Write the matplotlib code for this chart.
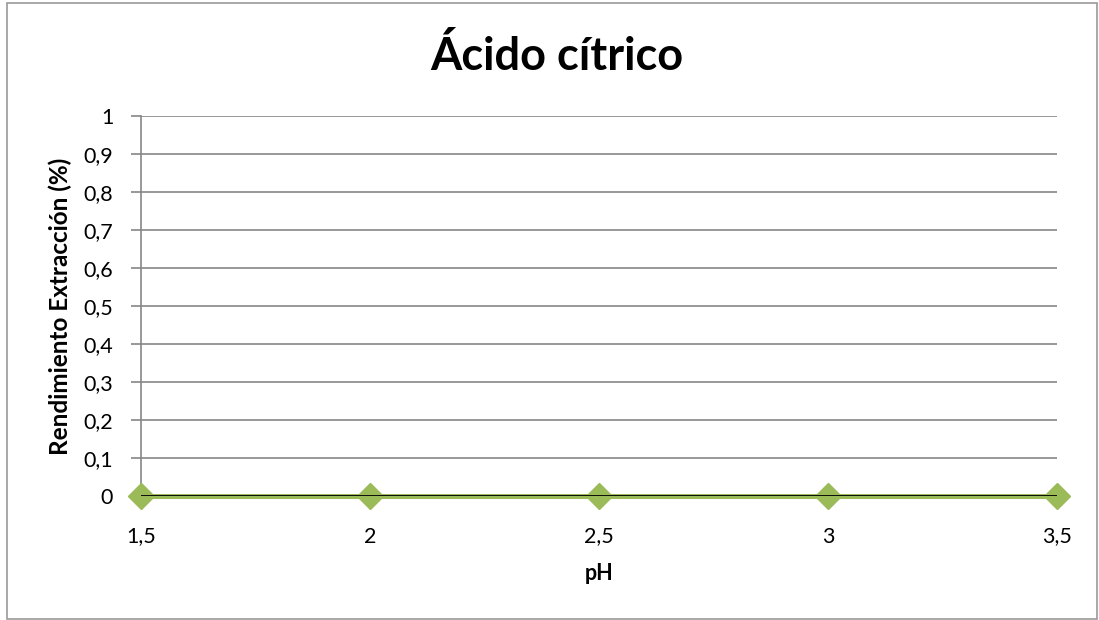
import matplotlib.pyplot as plt
from matplotlib.patches import Rectangle
from matplotlib.ticker import FuncFormatter

# data
ph = [1.5, 2.0, 2.5, 3.0, 3.5]
rendimiento = [0, 0, 0, 0, 0]
x_ticks = [1.5, 2.0, 2.5, 3.0, 3.5]
y_ticks = [0, 0.1, 0.2, 0.3, 0.4, 0.5, 0.6, 0.7, 0.8, 0.9, 1.0]

plt.rcParams['font.family'] = ['Lato', 'DejaVu Sans']

fig = plt.figure(figsize=(10.99, 6.2), dpi=100)
ax = fig.add_axes([141 / 1099, 1 - 496 / 620, (1057 - 141) / 1099, (496 - 116) / 620])

# outer chart border
fig.patches.append(Rectangle((7 / 1099, 1 / 620), 1090 / 1099, 616 / 620,
                             transform=fig.transFigure, fill=False,
                             edgecolor='#9a9a9a', lw=1.2))

ax.plot(ph, rendimiento, color='#9BBB59', lw=3.6, marker='D', ms=13,
        markeredgecolor='#9BBB59', clip_on=False, zorder=3)
ax.axhline(0, color='black', lw=1.3, zorder=4)

ax.set_xlim(1.5, 3.5)
ax.set_ylim(0, 1)
ax.set_xticks(x_ticks)
ax.set_yticks(y_ticks)

fmt = FuncFormatter(lambda v, p: ('%g' % v).replace('.', ','))
ax.xaxis.set_major_formatter(fmt)
ax.yaxis.set_major_formatter(fmt)

ax.grid(axis='y', color='#868686', lw=1.2)
ax.set_axisbelow(True)
for s in ['top', 'right', 'bottom']:
    ax.spines[s].set_visible(False)
ax.spines['left'].set_color('#868686')
ax.spines['left'].set_linewidth(1.2)
ax.tick_params(axis='y', length=7, width=1.2, color='#868686', labelsize=15.5, pad=13)
ax.tick_params(axis='x', length=0, labelsize=15.5, pad=22)

ax.set_xlabel('pH', fontsize=15.5, fontweight='bold', va='center')
ax.xaxis.set_label_coords(0.5, (496 - 574) / 380)
ax.set_ylabel('Rendimiento Extracción (%)', fontsize=17.5, fontweight='bold', va='center')
ax.yaxis.set_label_coords((60 - 141) / 916, 0.5)
fig.text(557 / 1099, 1 - 56 / 620, 'Ácido cítrico', fontsize=32.5, fontweight='bold',
         ha='center', va='center')

fig.savefig('out.png', dpi=100)
